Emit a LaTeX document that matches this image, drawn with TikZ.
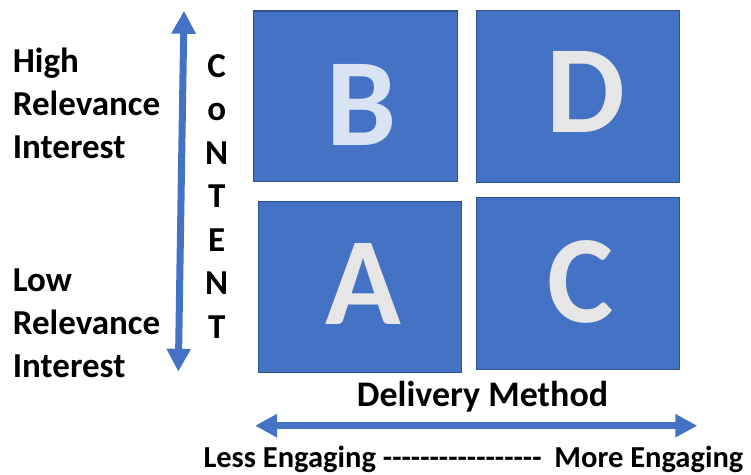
\documentclass[tikz,border=0pt]{standalone}
\usepackage{fontspec}
\setmainfont{Carlito}
\usetikzlibrary{arrows.meta}
\definecolor{boxblue}{HTML}{4472C4}
\definecolor{boxedge}{HTML}{2F528F}
\definecolor{letterB}{HTML}{DAE3F3}
\definecolor{lettergray}{HTML}{E7E6E6}
\tikzset{
  quad/.style={draw=boxedge, fill=boxblue, line width=1.2pt},
  bigletter/.style={inner sep=0pt, anchor=base, font=\fontsize{125}{125}\selectfont\bfseries},
  label/.style={inner sep=0pt, anchor=base west, font=\fontsize{35}{43}\selectfont\bfseries},
  vlabel/.style={inner sep=0pt, anchor=base, font=\fontsize{35}{43}\selectfont\bfseries},
  axis/.style={draw=boxblue, line width=7pt},
}
\begin{document}
\begin{tikzpicture}[x=1pt,y=-1pt]
\useasboundingbox (0,0) rectangle (751,474);
% quadrants
\path[quad] (253.3,11) rectangle (457.3,181.7);
\path[quad] (476.3,10.3) rectangle (679.7,182.3);
\path[quad] (258.3,201.3) rectangle (461.7,372.3);
\path[quad] (476.3,197.3) rectangle (679.7,369.3);
\node[bigletter, text=letterB] (B) at (361.3,145.8) {B};
\node[bigletter, text=lettergray] (D) at (586.3,132.8) {D};
\node[bigletter, text=lettergray] (A) at (363.7,324.5) {A};
\node[bigletter, text=lettergray] (C) at (580.5,322.3) {C};
% left labels
\node[label] (h1) at (12.7,72.7) {High};
\node[label] (h2) at (12.7,115.7) {Relevance};
\node[label] (h3) at (12.7,158.7) {Interest};
\node[label] (l1) at (12.7,291.7) {Low};
\node[label] (l2) at (12.7,334.5) {Relevance};
\node[label] (l3) at (12.7,377.3) {Interest};
% CONTENT
\node[vlabel] (c1) at (216.7,77.3) {C};
\node[vlabel] (c2) at (216.7,120.8) {o};
\node[vlabel] (c3) at (216.7,164.3) {N};
\node[vlabel] (c4) at (216.7,207.8) {T};
\node[vlabel] (c5) at (216.7,251.3) {E};
\node[vlabel] (c6) at (216.7,294.8) {N};
\node[vlabel] (c7) at (216.7,338.3) {T};
% vertical arrow
\coordinate (vtop) at (184.0,10.7);
\coordinate (vbot) at (178.3,371.7);
\draw[axis, {Triangle[width=23pt,length=23pt]}-{Triangle[width=23pt,length=23pt]}] (vbot) -- (vtop);
% horizontal arrow
\coordinate (hl) at (255,425.7);
\coordinate (hr) at (697.3,425.7);
\draw[axis, line width=6.5pt, {Triangle[width=22pt,length=22pt]}-{Triangle[width=22pt,length=22pt]}] (hl) -- (hr);
% bottom labels
\node[inner sep=0pt, anchor=base west, font=\fontsize{36}{43}\selectfont\bfseries] (dm) at (356.7,406.7) {Delivery Method};
\node[inner sep=0pt, anchor=base west, font=\fontsize{30.5}{36}\selectfont\bfseries] (eng) at (203.3,467) {Less Engaging -{}-{}-{}-{}-{}-{}-{}-{}-{}-{}-{}-{}-{}-{}-{}-{}- \hspace{6pt}More Engaging};
\end{tikzpicture}
\end{document}
